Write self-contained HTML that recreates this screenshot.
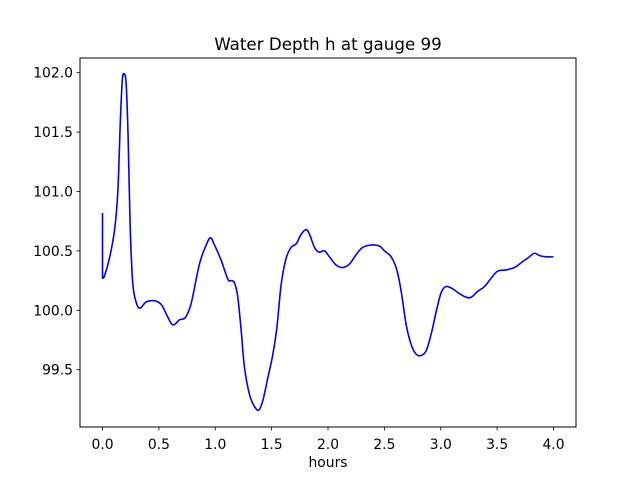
<!DOCTYPE html>
<html><head><meta charset="utf-8"><style>
body{margin:0;background:#fff}
svg text{font-family:"DejaVu Sans","Liberation Sans",sans-serif;fill:#000}
</style></head><body>
<svg id="chart" width="640" height="480" xmlns="http://www.w3.org/2000/svg">
<rect width="640" height="480" fill="#fff"/>
<text x="328" y="50" font-size="16.7" text-anchor="middle">Water Depth h at gauge 99</text>
<g id="plot"></g>
<rect x="80" y="58" width="496" height="369" fill="none" stroke="#000" stroke-width="1"/>
<text x="328" y="467" font-size="13.9" text-anchor="middle">hours</text>
</svg>
<script>
const hours=[0,0,0.018,0.062,0.106,0.136,0.157,0.175,0.192,0.210,0.228,0.245,0.269,0.305,0.337,0.387,0.461,0.520,0.565,0.609,0.639,0.683,0.736,0.787,0.860,0.920,0.958,0.993,1.053,1.112,1.141,1.171,1.200,1.230,1.259,1.304,1.348,1.387,1.422,1.466,1.511,1.546,1.585,1.629,1.673,1.718,1.762,1.806,1.836,1.880,1.919,1.969,2.013,2.073,2.131,2.191,2.250,2.309,2.392,2.457,2.501,2.560,2.610,2.649,2.693,2.738,2.782,2.826,2.871,2.915,2.960,3.004,3.048,3.107,3.166,3.226,3.270,3.329,3.388,3.447,3.506,3.580,3.654,3.713,3.772,3.831,3.876,3.935,4.000];
const depth=[100.82,100.27,100.29,100.44,100.67,101.00,101.56,101.93,101.99,101.90,101.43,100.72,100.22,100.05,100.02,100.07,100.08,100.05,99.97,99.89,99.88,99.92,99.94,100.06,100.39,100.55,100.61,100.55,100.42,100.26,100.25,100.23,100.11,99.83,99.52,99.29,99.19,99.16,99.24,99.43,99.63,99.85,100.22,100.44,100.53,100.56,100.64,100.68,100.64,100.53,100.49,100.50,100.45,100.38,100.36,100.39,100.47,100.53,100.55,100.54,100.50,100.45,100.34,100.16,99.88,99.71,99.63,99.62,99.66,99.80,99.99,100.15,100.20,100.18,100.14,100.11,100.11,100.16,100.20,100.27,100.33,100.34,100.36,100.40,100.44,100.48,100.46,100.45,100.45];
const xTicks=[0,0.5,1,1.5,2,2.5,3,3.5,4];
const yTicks=[99.5,100,100.5,101,101.5,102];
const NS="http://www.w3.org/2000/svg";
const X=v=>102.5+v*112.75;
const Y=v=>72.7+(102-v)*118.8;
const g=document.getElementById('plot');
function mk(t,a){const e=document.createElementNS(NS,t);for(const k in a)e.setAttribute(k,a[k]);g.appendChild(e);return e;}
let d='';
for(let i=0;i<hours.length;i++){
  const x=X(hours[i]),y=Y(depth[i]);
  if(i===0){d+='M'+x+','+y;}
  else if(i===1){d+=' L'+x+','+y;}
  else{
    const p0=i>1?[X(hours[i-2]),Y(depth[i-2])]:[X(hours[i-1]),Y(depth[i-1])];
    const p1=[X(hours[i-1]),Y(depth[i-1])];
    const p2=[x,y];
    const p3=i+1<hours.length?[X(hours[i+1]),Y(depth[i+1])]:p2;
    const s=i===2?p1:p0;
    const c1=[p1[0]+(p2[0]-s[0])/6,p1[1]+(p2[1]-s[1])/6];
    const c2=[p2[0]-(p3[0]-p1[0])/6,p2[1]-(p3[1]-p1[1])/6];
    d+=' C'+c1[0]+','+c1[1]+' '+c2[0]+','+c2[1]+' '+p2[0]+','+p2[1];
  }
}
const line=mk('path',{d:d,fill:'none',stroke:'#0000ff','stroke-width':1.6,'stroke-linejoin':'round'});


xTicks.forEach(v=>{
  const x=X(v);
  const t=mk('line',{x1:x,x2:x,y1:427,y2:430.5,stroke:'#000','stroke-width':0.8});
  
  
  const l=mk('text',{x:x,y:449,'font-size':13.9,'text-anchor':'middle'});
  l.textContent=v.toFixed(1);
  
  
});
yTicks.forEach(v=>{
  const y=Y(v);
  const t=mk('line',{x1:76.5,x2:80,y1:y,y2:y,stroke:'#000','stroke-width':0.8});
  
  
  const l=mk('text',{x:73,y:y+5,'font-size':13.9,'text-anchor':'end'});
  l.textContent=v.toFixed(1);
  
  
});
</script>
</body></html>
